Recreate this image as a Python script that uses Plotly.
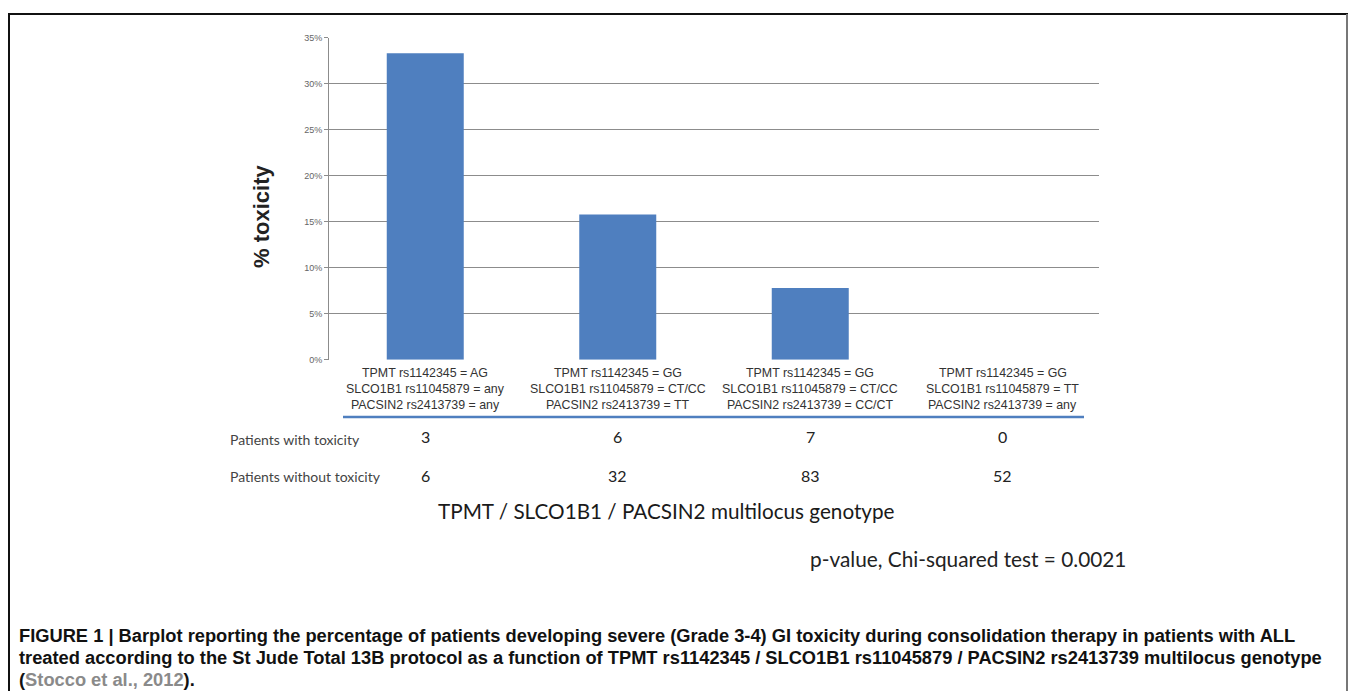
import plotly.graph_objects as go

# The page body has an 8px margin, so the figure is sized to fit the window exactly.
PAGE_MARGIN = 8
FW, FH = 1356 - 2 * PAGE_MARGIN, 699 - 2 * PAGE_MARGIN

categories = [
    "TPMT rs1142345 = AG<br>SLCO1B1 rs11045879 = any<br>PACSIN2 rs2413739 = any",
    "TPMT rs1142345 = GG<br>SLCO1B1 rs11045879 = CT/CC<br>PACSIN2 rs2413739 = TT",
    "TPMT rs1142345 = GG<br>SLCO1B1 rs11045879 = CT/CC<br>PACSIN2 rs2413739 = CC/CT",
    "TPMT rs1142345 = GG<br>SLCO1B1 rs11045879 = TT<br>PACSIN2 rs2413739 = any",
]
pct_toxicity = [33.3, 15.8, 7.8, 0.0]
with_toxicity = [3, 6, 7, 0]
without_toxicity = [6, 32, 83, 52]
y_ticks = [0, 5, 10, 15, 20, 25, 30, 35]

caption_lines = [
    "FIGURE 1 | Barplot reporting the percentage of patients developing severe (Grade 3-4) GI toxicity during consolidation therapy in patients with ALL",
    "treated according to the St Jude Total 13B protocol as a function of TPMT rs1142345 / SLCO1B1 rs11045879 / PACSIN2 rs2413739 multilocus genotype",
    "(<span style='color:#8a8a8a'>Stocco et al., 2012</span>).",
]


def px(x):
    return (x - PAGE_MARGIN) / FW


def py(y):
    return 1 - (y - PAGE_MARGIN) / FH


fig = go.Figure()
fig.add_trace(go.Bar(
    x=categories, y=pct_toxicity,
    marker=dict(color="#4f7fbf", line=dict(width=0)),
    width=0.40,
    hoverinfo="skip",
))


def note(text, x, y, font, xanchor="center", xref="paper", **kw):
    return dict(text=text, x=x, y=y, xref=xref, yref="paper", xanchor=xanchor, yanchor="middle",
                showarrow=False, font=font, **kw)


annotations = []
# category labels (three lines each, placed on the category axis)
cat_font = dict(family="Liberation Sans, Arial", size=12.4, color="#333")
for c in categories:
    for i, part in enumerate(c.split("<br>")):
        annotations.append(note(part, c, py(373 + 16.5 * i), cat_font, xref="x"))

annotations.append(note("<b>% toxicity</b>", px(262), py(214),
                        dict(family="Liberation Sans, Arial", size=22, color="#222"), textangle=-90))
row_font = dict(family="Lato, Open Sans", size=14, color="#444")
annotations.append(note("Patients with toxicity", px(228), py(441), row_font, xanchor="left"))
annotations.append(note("Patients without toxicity", px(228), py(478), row_font, xanchor="left"))
val_font = dict(family="Lato, Open Sans", size=16, color="#222")
for c, a, b in zip(categories, with_toxicity, without_toxicity):
    annotations.append(note(str(a), c, py(438), val_font, xref="x"))
    annotations.append(note(str(b), c, py(477), val_font, xref="x"))
annotations.append(note("TPMT / SLCO1B1 / PACSIN2 multilocus genotype", px(666), py(513),
                        dict(family="Lato, Open Sans", size=20.7, color="#1a1a1a")))
annotations.append(note("p-value, Chi-squared test = 0.0021", px(1128), py(562),
                        dict(family="Lato, Open Sans", size=20.8, color="#222"), xanchor="right"))
for i, line in enumerate(caption_lines):
    annotations.append(note("<b>" + line + "</b>", px(17), py(640 + 22 * i),
                            dict(family="Liberation Sans, Arial", size=18.3, color="#111"), xanchor="left"))

shapes = [
    dict(type="line", xref="paper", yref="paper", x0=px(343), x1=px(1084), y0=py(418), y1=py(418),
         line=dict(color="#4f7fbf", width=2.5)),
    dict(type="line", xref="paper", yref="paper", x0=1 / FW, x1=1 / FW, y0=1 - 1 / FH, y1=-0.05,
         line=dict(color="#111", width=2)),
    dict(type="line", xref="paper", yref="paper", x0=0, x1=1, y0=1 - 1 / FH, y1=1 - 1 / FH,
         line=dict(color="#111", width=2)),
    dict(type="line", xref="paper", yref="paper", x0=1 - 1 / FW, x1=1 - 1 / FW, y0=1 - 1 / FH, y1=-0.05,
         line=dict(color="#777", width=2)),
]

fig.update_layout(
    width=FW, height=FH,
    margin=dict(l=0, r=0, t=0, b=0),
    paper_bgcolor="white", plot_bgcolor="white",
    showlegend=False,
    annotations=annotations,
    shapes=shapes,
    xaxis=dict(domain=[px(329), px(1099)], showgrid=False, showline=False, zeroline=False,
               ticks="", showticklabels=False, fixedrange=True),
    yaxis=dict(domain=[py(360), py(33)], range=[0, 35], tickvals=y_ticks,
               ticktext=[f"{v}%" for v in y_ticks],
               showgrid=True, gridcolor="#8c8c8c", gridwidth=1,
               zeroline=True, zerolinecolor="white", zerolinewidth=1,
               showline=True, linecolor="#8c8c8c", linewidth=1,
               ticks="outside", ticklen=4, tickcolor="#8c8c8c",
               tickfont=dict(family="Liberation Sans, Arial", size=9, color="#666"),
               fixedrange=True),
)

fig.write_html("out.html")
